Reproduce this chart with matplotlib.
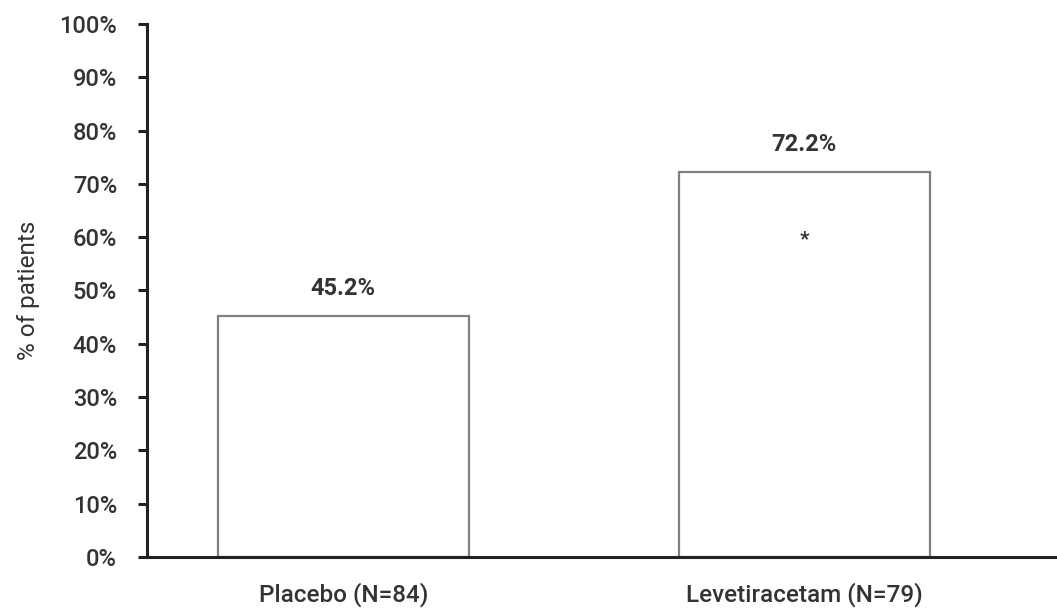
import numpy as np
import matplotlib
matplotlib.use("Agg")
import matplotlib.pyplot as plt
from matplotlib.ticker import PercentFormatter

# data
groups = ["Placebo (N=84)", "Levetiracetam (N=79)"]
pct = [45.2, 72.2]
labels = ["45.2%", "72.2%"]
star_group = 1
star_level = 59.5

plt.rcParams['font.family'] = ['Roboto', 'DejaVu Sans']
ink = "#222222"
txt = "#333333"

fig = plt.figure(figsize=(10.57, 6.10), dpi=100)
ax = fig.add_axes([0.139, 0.0869, 0.861, 0.8738])

x = np.arange(len(groups))
ax.bar(x, pct, width=0.545, color="white", edgecolor="#808080", linewidth=1.6)

for xi, v, lab in zip(x, pct, labels):
    ax.text(xi, v + 3.0, lab, ha="center", va="bottom", fontsize=17,
            fontweight="bold", color=txt)
ax.text(x[star_group], star_level, "*", ha="center", va="center",
        fontsize=15, fontweight="bold", color=txt)

ax.set_xlim(-0.426, 1.548)
ax.set_ylim(0, 100)
ax.set_yticks(np.arange(0, 101, 10))
ax.yaxis.set_major_formatter(PercentFormatter(decimals=0))
ax.set_xticks(x)
ax.set_xticklabels(groups, fontweight="medium")
for t in ax.get_yticklabels():
    t.set_fontweight("medium")

for s in ["top", "right"]:
    ax.spines[s].set_visible(False)
for s in ["left", "bottom"]:
    ax.spines[s].set_color(ink)
    ax.spines[s].set_linewidth(2.2)

ax.tick_params(axis="y", length=6.5, width=2.2, color=ink, pad=15,
               labelsize=17, labelcolor=txt)
ax.tick_params(axis="x", length=0, pad=18, labelsize=17.5, labelcolor=txt)
ax.set_ylabel("% of patients", fontsize=17.5, color=txt, labelpad=14)

fig.savefig("out.png", dpi=100)
